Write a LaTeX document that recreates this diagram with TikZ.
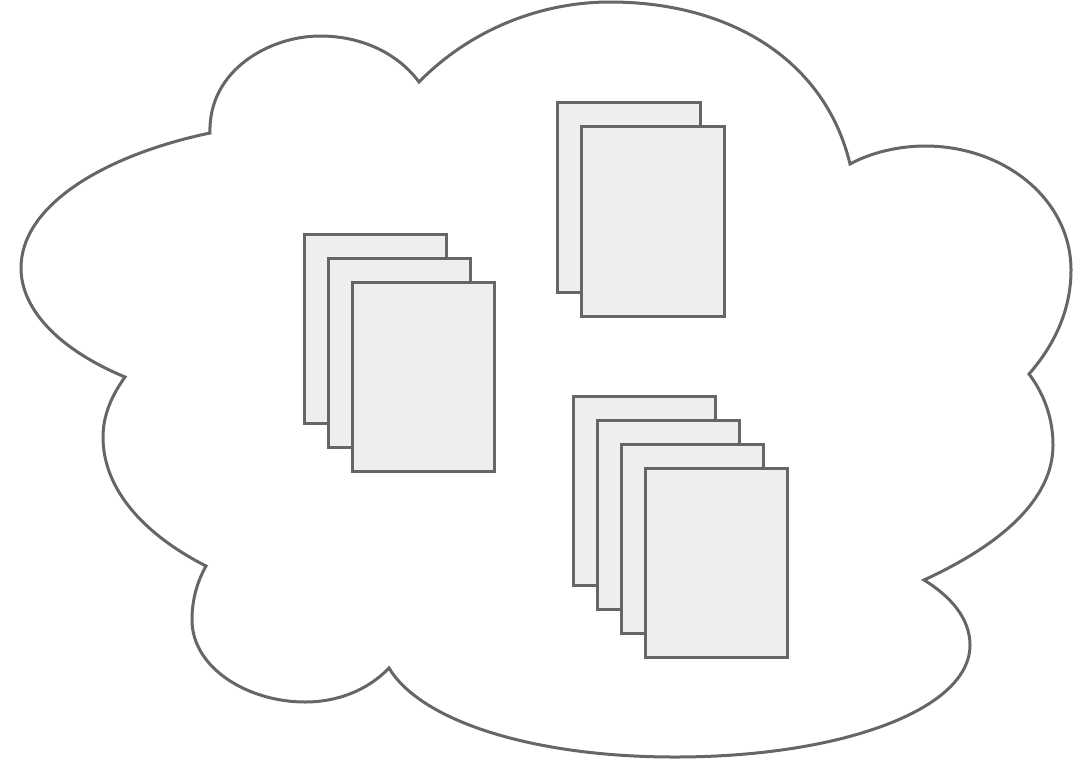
\documentclass[tikz,border=0pt]{standalone}
\usepackage{tikz}
\usetikzlibrary{positioning}
\definecolor{sheetline}{HTML}{666666}
\definecolor{sheetfill}{HTML}{EEEEEE}

\begin{document}
\begin{tikzpicture}[
    x=1pt, y=-1pt,
    sheet/.style={rectangle, draw=sheetline, fill=sheetfill, line width=3pt, minimum width=142.4pt, minimum height=189.6pt, inner sep=0pt},
    cloud/.style={draw=sheetline, line width=3pt, line join=miter}
]
\useasboundingbox (0,0) rectangle (1075,758);
% outline
\draw[cloud] (210,133) .. controls (208,70) and (270,36) .. (320,36)
  .. controls (365,36) and (400,56) .. (419,82)
  .. controls (470,30) and (540,2) .. (610,2)
  .. controls (730,2) and (825,60) .. (850,164)
  .. controls (872,152) and (900,146) .. (925,146)
  .. controls (1005,146) and (1071,200) .. (1071,270)
  .. controls (1071,315) and (1050,350) .. (1029,374)
  .. controls (1045,395) and (1053,420) .. (1053,445)
  .. controls (1053,500) and (1000,545) .. (924,580)
  .. controls (950,596) and (970,618) .. (970,645)
  .. controls (970,710) and (840,757) .. (675,757)
  .. controls (530,757) and (420,720) .. (389,668)
  .. controls (368,690) and (338,702) .. (305,702)
  .. controls (248,702) and (192,668) .. (192,620)
  .. controls (192,600) and (197,582) .. (206,566)
  .. controls (145,535) and (103,490) .. (103,437)
  .. controls (103,415) and (112,395) .. (125,377)
  .. controls (60,350) and (21,310) .. (21,268)
  .. controls (21,205) and (105,155) .. (210,133) -- cycle;
% left stack
\node[sheet] (a1) at (375.5,329) {};
\node[sheet, xshift=24pt, yshift=-24pt] (a2) at (a1) {};
\node[sheet, xshift=24pt, yshift=-24pt] (a3) at (a2) {};
% top stack
\node[sheet] (b1) at (629,197.5) {};
\node[sheet, xshift=24pt, yshift=-24pt] (b2) at (b1) {};
% bottom stack
\node[sheet] (c1) at (644.5,491) {};
\node[sheet, xshift=24pt, yshift=-24pt] (c2) at (c1) {};
\node[sheet, xshift=24pt, yshift=-24pt] (c3) at (c2) {};
\node[sheet, xshift=24pt, yshift=-24pt] (c4) at (c3) {};
\end{tikzpicture}
\end{document}
